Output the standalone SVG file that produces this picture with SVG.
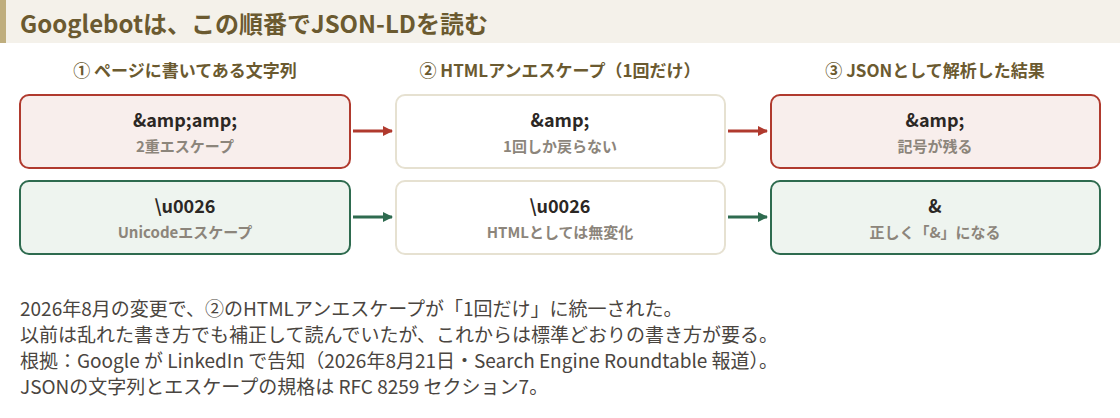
<svg xmlns="http://www.w3.org/2000/svg" width="1120" height="418" viewBox="0 0 1120 418">
<defs>
<style>
text{font-family:"Noto Sans CJK JP","Noto Sans",sans-serif}
.title{font-size:24px;font-weight:700;fill:#6b5a30}
.col{font-size:17px;font-weight:700;fill:#6b5a30;text-anchor:middle}
.main{font-size:18px;font-weight:700;fill:#2b2724;text-anchor:middle}
.sub{font-size:15px;font-weight:700;fill:#8c857b;text-anchor:middle}
.body{font-size:19px;fill:#4a4540}
.red{fill:#f8eeec;stroke:#b03a2e;stroke-width:2}
.green{fill:#eef4ef;stroke:#2e6b4f;stroke-width:2}
.neutral{fill:#ffffff;stroke:#e6e1d1;stroke-width:2}
</style>
<marker id="ar" viewBox="0 0 10 10" refX="9" refY="5" markerWidth="10" markerHeight="12" markerUnits="userSpaceOnUse" orient="auto"><path d="M0,0 L10,5 L0,10 z" fill="#b03a2e"/></marker>
<marker id="ag" viewBox="0 0 10 10" refX="9" refY="5" markerWidth="10" markerHeight="12" markerUnits="userSpaceOnUse" orient="auto"><path d="M0,0 L10,5 L0,10 z" fill="#2e6b4f"/></marker>
</defs>
<rect x="0" y="0" width="1120" height="418" fill="#ffffff"/>
<g id="header">
<rect x="0" y="0" width="1120" height="43" fill="#f4f1ea"/>
<rect x="0" y="0" width="6" height="43" fill="#bfae7e"/>
<text class="title" x="20" y="33">Googlebotは、この順番でJSON-LDを読む</text>
</g>
<g id="columns">
<text class="col" x="185" y="77">① ページに書いてある文字列</text>
<text class="col" x="560" y="77">② HTMLアンエスケープ（1回だけ）</text>
<text class="col" x="935" y="77">③ JSONとして解析した結果</text>
</g>
<g id="connectors">
<line x1="353" y1="131" x2="392" y2="131" stroke="#b03a2e" stroke-width="3" marker-end="url(#ar)"/>
<line x1="728" y1="131" x2="767" y2="131" stroke="#b03a2e" stroke-width="3" marker-end="url(#ar)"/>
<line x1="353" y1="217" x2="392" y2="217" stroke="#2e6b4f" stroke-width="3" marker-end="url(#ag)"/>
<line x1="728" y1="217" x2="767" y2="217" stroke="#2e6b4f" stroke-width="3" marker-end="url(#ag)"/>
</g>
<g id="n1a">
<rect class="red" x="20" y="95" width="330" height="73" rx="9"/>
<text class="main" x="185" y="127">&amp;amp;amp;</text>
<text class="sub" x="185" y="152">2重エスケープ</text>
</g>
<g id="n2a">
<rect class="neutral" x="396" y="95" width="329" height="73" rx="9"/>
<text class="main" x="560" y="127">&amp;amp;</text>
<text class="sub" x="560" y="152">1回しか戻らない</text>
</g>
<g id="n3a">
<rect class="red" x="771" y="95" width="329" height="73" rx="9"/>
<text class="main" x="935" y="127">&amp;amp;</text>
<text class="sub" x="935" y="152">記号が残る</text>
</g>
<g id="n1b">
<rect class="green" x="20" y="181" width="330" height="73" rx="9"/>
<text class="main" x="185" y="213">\u0026</text>
<text class="sub" x="185" y="238">Unicodeエスケープ</text>
</g>
<g id="n2b">
<rect class="neutral" x="396" y="181" width="329" height="73" rx="9"/>
<text class="main" x="560" y="213">\u0026</text>
<text class="sub" x="560" y="238">HTMLとしては無変化</text>
</g>
<g id="n3b">
<rect class="green" x="771" y="181" width="329" height="73" rx="9"/>
<text class="main" x="935" y="213">&amp;</text>
<text class="sub" x="935" y="238">正しく「&amp;」になる</text>
</g>
<g id="notes">
<text class="body" x="20" y="316">2026年8月の変更で、②のHTMLアンエスケープが「1回だけ」に統一された。</text>
<text class="body" x="20" y="342">以前は乱れた書き方でも補正して読んでいたが、これからは標準どおりの書き方が要る。</text>
<text class="body" x="20" y="368">根拠：Google が LinkedIn で告知（2026年8月21日・Search Engine Roundtable 報道）。</text>
<text class="body" x="20" y="394">JSONの文字列とエスケープの規格は RFC 8259 セクション7。</text>
</g>
</svg>
